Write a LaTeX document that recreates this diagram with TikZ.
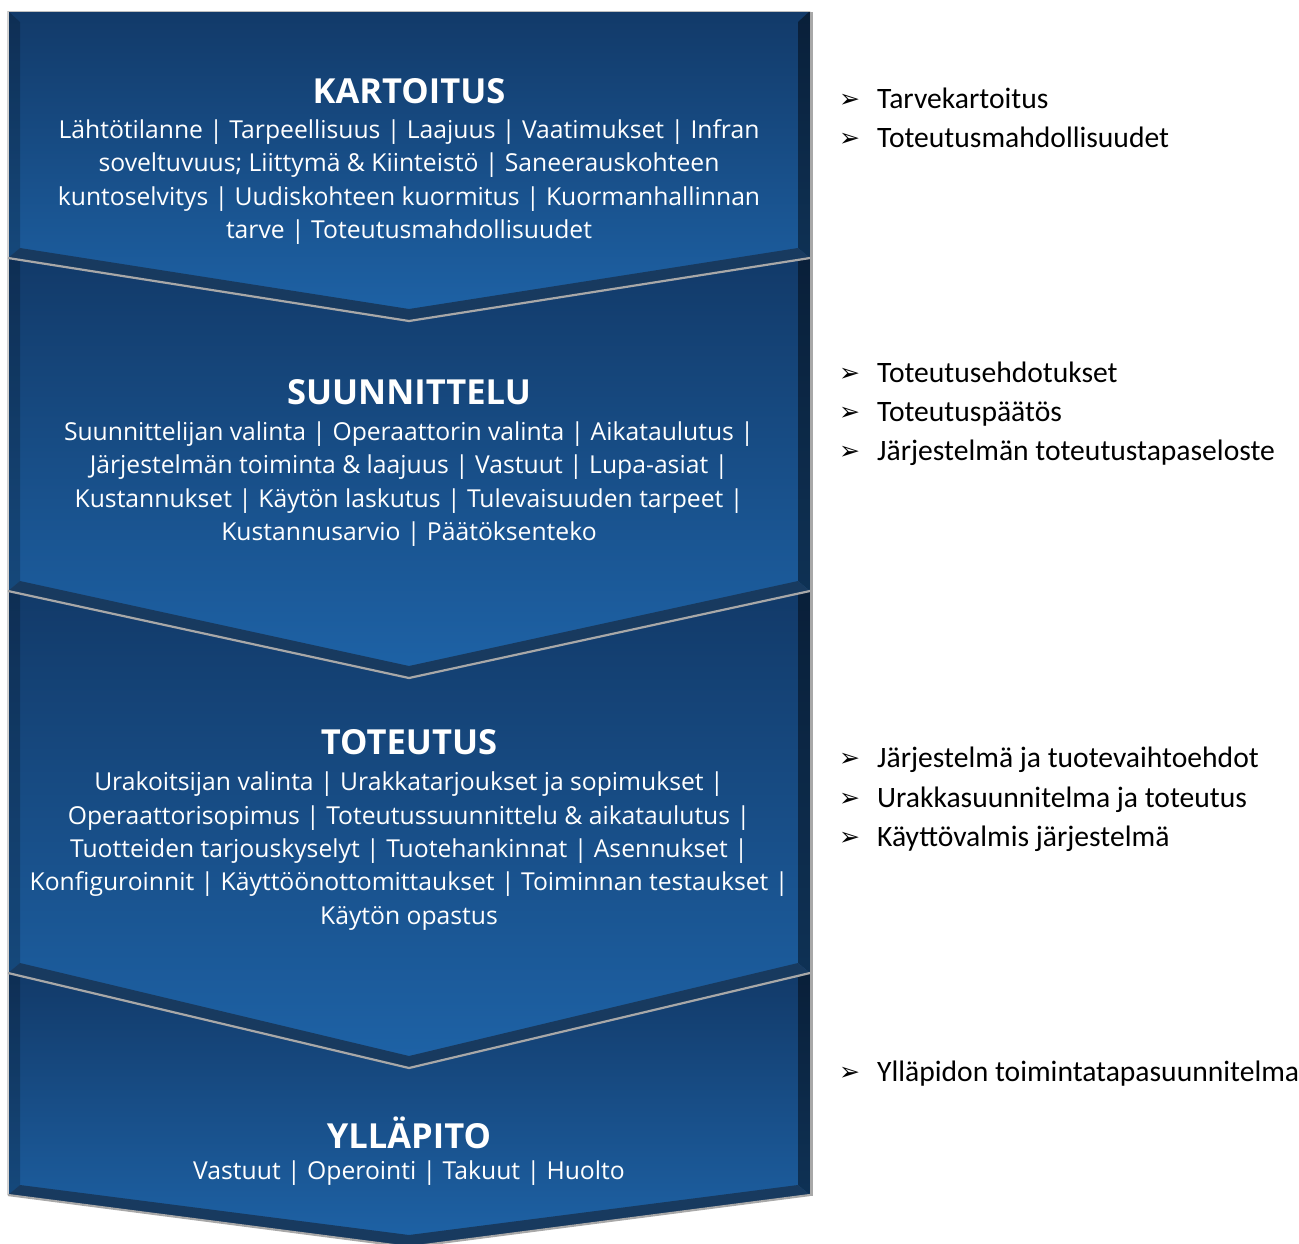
\documentclass[tikz,border=0pt]{standalone}
\usepackage{fontspec}
\setmainfont{Open Sans}
\newfontfamily\rfont{Carlito}
\newfontfamily\symfont{DejaVu Sans}
\definecolor{pTop}{HTML}{123A69}
\definecolor{pBot}{HTML}{1E63A7}
\definecolor{bandB}{HTML}{183A5F}
\definecolor{edgeGray}{HTML}{A8A8A8}
\newcommand\drawpanel[5]{%
  \shade[top color=pTop, bottom color=pBot] (8,#1) -- (409,#2) -- (810,#1) -- (810,#3) -- (409,#4) -- (8,#3) -- cycle;
  \fill[black, opacity=0.2] (8,#1) -- (20,#1+#5) -- (20,#3-10) -- (8,#3) -- cycle;
  \fill[black, opacity=0.45] (810,#1) -- (798,#1+#5) -- (798,#3-10) -- (810,#3) -- cycle;
  \fill[bandB] (8,#3) -- (20,#3-10) -- (409,#4-12) -- (798,#3-10) -- (810,#3) -- (409,#4) -- cycle;
}
\begin{document}
\begin{tikzpicture}[x=1pt,y=-1pt,
  paneltext/.style={text=white, align=center, inner sep=0pt, font=\fontsize{24.7}{33.3}\selectfont},
  paneltitle/.style={text=white, inner sep=0pt, font=\fontsize{34.5}{38}\selectfont\bfseries},
  bultext/.style={anchor=base west, inner sep=0pt, text=black, font=\rfont\fontsize{29.6}{31}\selectfont},
  bularrow/.style={anchor=base west, inner sep=0pt, text=black, font=\symfont\fontsize{25}{26}\selectfont},
  chevline/.style={draw=edgeGray, line width=2.2pt}]
\useasboundingbox (0,0) rectangle (1299,1243);
\clip (0,0) rectangle (1299,1243);
% panels
\drawpanel{11}{11}{258}{321}{11}
\drawpanel{258}{321}{591}{678}{2}
\drawpanel{591}{678}{973}{1068}{3}
\drawpanel{973}{1068}{1195}{1247}{3}
% outer edges
\fill[edgeGray] (810,12) rectangle (813,1196);
\draw[gray!35, line width=1.5pt] (8,11) -- (8,1195);
\draw[gray!50!white, line width=1pt] (8,11) -- (810,11);
\draw[chevline] (8,258) -- (409,321) -- (810,258);
\draw[chevline] (8,591) -- (409,678) -- (810,591);
\draw[chevline] (8,973) -- (409,1068) -- (810,973);
\draw[chevline] (8,1195) -- (409,1247) -- (810,1195);
% panel texts
\node[paneltitle] (t1) at (409,91) {KARTOITUS};
\node[paneltext] (b1) at (409,182) {Lähtötilanne | Tarpeellisuus | Laajuus | Vaatimukset | Infran\\soveltuvuus; Liittymä \& Kiinteistö | Saneerauskohteen\\kuntoselvitys | Uudiskohteen kuormitus | Kuormanhallinnan\\tarve | Toteutusmahdollisuudet};
\node[paneltitle] (t2) at (409,392) {SUUNNITTELU};
\node[paneltext] (b2) at (409,484) {Suunnittelijan valinta | Operaattorin valinta | Aikataulutus |\\Järjestelmän toiminta \& laajuus | Vastuut | Lupa-asiat |\\Kustannukset | Käytön laskutus | Tulevaisuuden tarpeet |\\Kustannusarvio | Päätöksenteko};
\node[paneltitle] (t3) at (409,742) {TOTEUTUS};
\node[paneltext] (b3) at (409,851) {Urakoitsijan valinta | Urakkatarjoukset ja sopimukset |\\Operaattorisopimus | Toteutussuunnittelu \& aikataulutus |\\Tuotteiden tarjouskyselyt | Tuotehankinnat | Asennukset |\\Konfiguroinnit | Käyttöönottomittaukset | Toiminnan testaukset |\\Käytön opastus};
\node[paneltitle] (t4) at (409,1133) {YLLÄPITO};
\node[paneltext] (b4) at (409,1173) {Vastuut | Operointi | Takuut | Huolto};
% bullets
\foreach \n/\yy/\txt in {
  1/108/Tarvekartoitus,
  2/147/Toteutusmahdollisuudet,
  3/382/Toteutusehdotukset,
  4/421/Toteutuspäätös,
  5/460/Järjestelmän toteutustapaseloste,
  6/767/Järjestelmä ja tuotevaihtoehdot,
  7/807/Urakkasuunnitelma ja toteutus,
  8/846/Käyttövalmis järjestelmä,
  9/1081/Ylläpidon toimintatapasuunnitelma}{
  \node[bularrow] (a\n) at (839,\yy-1) {➢};
  \node[bultext] (r\n) at (877,\yy) {\txt};
}
\end{tikzpicture}
\end{document}
